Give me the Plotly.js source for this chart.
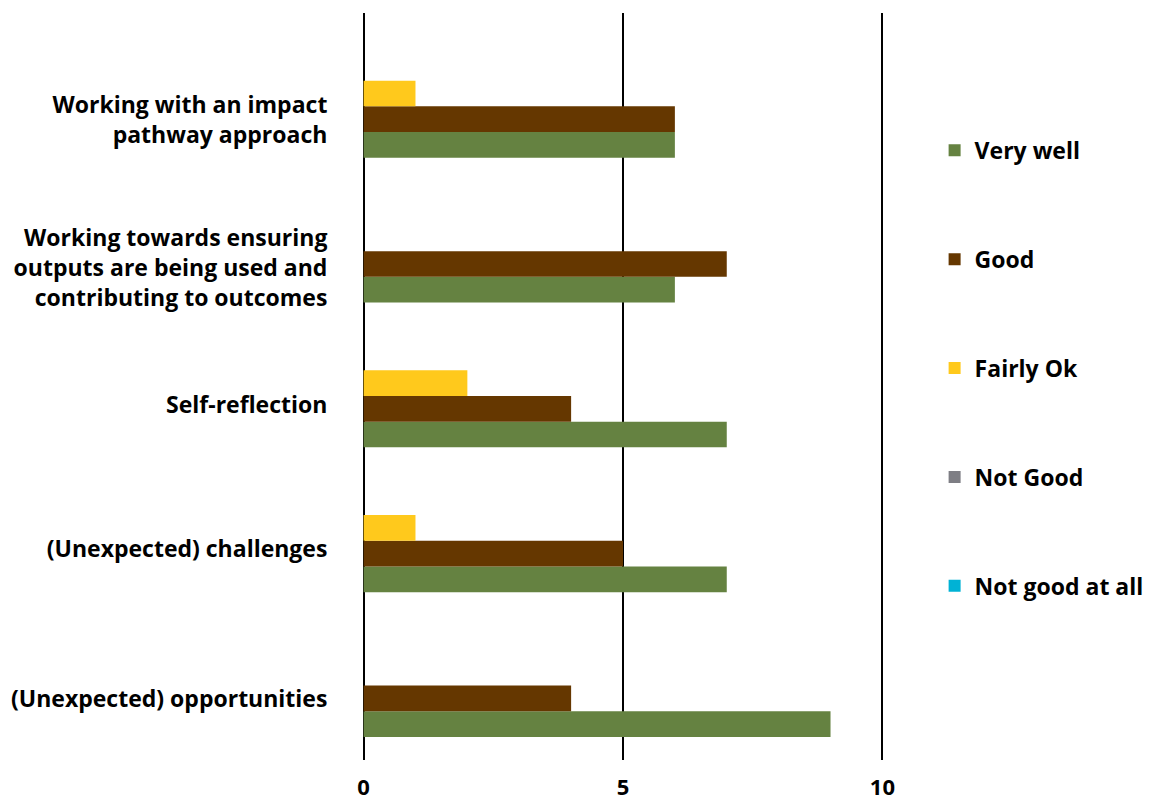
<!DOCTYPE html>
<html>
<head>
<meta charset="utf-8">
<script src="https://cdn.plot.ly/plotly-3.0.1.min.js"></script>
<style>html,body{margin:0;padding:0;background:#fff;}#chart{width:1151px;height:800px;}</style>
</head>
<body>
<div id="chart"></div>
<script>
// Categories, top to bottom as shown
const categories = [
  "Working with an impact<br>pathway approach",
  "Working towards ensuring<br>outputs are being used and<br>contributing to outcomes",
  "Self-reflection",
  "(Unexpected) challenges",
  "(Unexpected) opportunities"
];
const seriesNames = ["Very well", "Good", "Fairly Ok", "Not Good", "Not good at all"];
const veryWell     = [6, 6, 7, 7, 9];
const good         = [6, 7, 4, 5, 4];
const fairlyOk     = [1, 0, 2, 1, 0];
const notGood      = [0, 0, 0, 0, 0];
const notGoodAtAll = [0, 0, 0, 0, 0];
const seriesColors = ["#658241", "#653700", "#FFC91C", "#7E7E84", "#00B2D5"];
const xTicks = [0, 5, 10];

const values = [veryWell, good, fairlyOk, notGood, notGoodAtAll];
const n = categories.length;
const yPos = categories.map((c, i) => n - 1 - i);
// label vertical offsets (below group centre), in category units
const labelShift = [0.183, 0.205, 0.151, 0.146, 0.182];
const tickPos = yPos.map((y, i) => y - labelShift[i]);

const FONT = "Open Sans, Noto Sans, Arial, sans-serif";

const traces = values.map((v, k) => ({
  type: "bar",
  orientation: "h",
  name: seriesNames[k],
  x: v,
  y: yPos,
  marker: {color: seriesColors[k]},
  legendgroup: "g" + k,
  hoverinfo: "x+name"
}));

const layout = {
  width: 1151,
  height: 800,
  margin: {l: 361, r: 266, t: 13, b: 40},
  paper_bgcolor: "#ffffff",
  plot_bgcolor: "#ffffff",
  font: {family: FONT, size: 23, color: "#000000", weight: "bold"},
  barmode: "group",
  bargap: 0.1125,
  bargroupgap: 0,
  xaxis: {
    range: [-0.05, 10.05],
    tickvals: xTicks,
    ticktext: xTicks.map(String),
    showgrid: true,
    gridcolor: "#000000",
    gridwidth: 2,
    zeroline: true,
    zerolinecolor: "#000000",
    zerolinewidth: 2,
    showline: false,
    ticks: "",
    ticklabelstandoff: 12,
    tickfont: {family: FONT, size: 22, color: "#000000", weight: "bold"}
  },
  yaxis: {
    range: [-0.603, 4.556],
    tickvals: tickPos,
    ticktext: categories,
    showgrid: false,
    zeroline: false,
    showline: false,
    ticks: "outside",
    ticklen: 28,
    tickcolor: "rgba(0,0,0,0)",
    tickfont: {family: FONT, size: 23, color: "#000000", weight: "bold"}
  },
  legend: {
    xref: "container",
    yref: "container",
    x: 0.812,
    y: 0.839,
    xanchor: "left",
    yanchor: "top",
    maxheight: 700,
    traceorder: "grouped",
    tracegroupgap: 76,
    font: {family: FONT, size: 23, color: "#000000", weight: "bold"},
    bgcolor: "rgba(0,0,0,0)"
  },
  showlegend: true
};

Plotly.newPlot("chart", traces, layout, {displayModeBar: false, staticPlot: true});
</script>
</body>
</html>
